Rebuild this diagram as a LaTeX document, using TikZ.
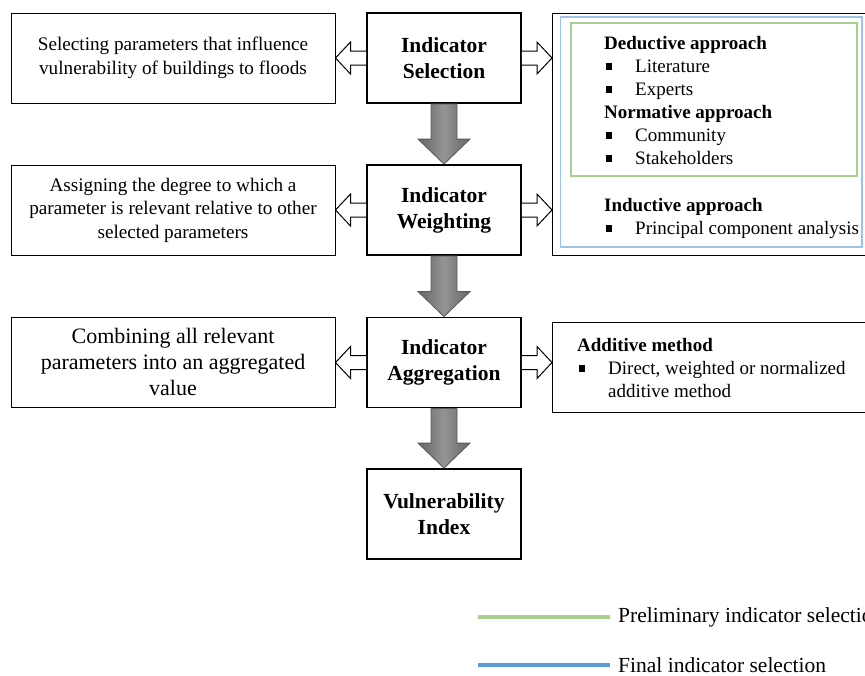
\documentclass[tikz,border=0pt]{standalone}
\usepackage{fontspec}
\setmainfont{Liberation Serif}
\usepackage{xcolor}
\usepackage{tikz}
\usetikzlibrary{calc}

\definecolor{prelimgreen}{HTML}{A9D18E}
\definecolor{finalblue}{HTML}{5B9BD5}
\definecolor{boxblue}{HTML}{9DC3E6}

\newcommand{\bul}{\makebox[31pt][l]{\hspace{1.5pt}\raisebox{2.5pt}{\rule{6.5pt}{6.5pt}}}}
\newcommand{\fatdown}[2]{%
  \draw[downarrow] ($(#1.south)+(-13,0)$) -- ($(#2.north)+(-13,-25)$)
    -- ($(#2.north)+(-26,-25)$) -- (#2.north) -- ($(#2.north)+(26,-25)$)
    -- ($(#2.north)+(13,-25)$) -- ($(#1.south)+(13,0)$) -- cycle;}
\newcommand{\sidearrow}[3]{%
  \draw[hollow] ($(#1)+(0,-7)$) -- ($(#2)+(#3,-7)$) -- ($(#2)+(#3,-16)$) -- (#2)
    -- ($(#2)+(#3,16)$) -- ($(#2)+(#3,7)$) -- ($(#1)+(0,7)$);}

\begin{document}
\begin{tikzpicture}[
  x = 1pt, y = -1pt,
  every node/.style = {inner sep = 0pt},
  stepbox/.style = {draw, line width = 1.8pt, fill = white, minimum width = 154pt,
    minimum height = 90pt, align = center, font = \fontsize{21.5}{26}\selectfont\bfseries},
  descbox/.style = {draw, line width = 1pt, minimum width = 324pt, minimum height = 90pt,
    align = center, font = \fontsize{19.2}{23.5}\selectfont},
  panelbox/.style = {draw, line width = 1pt, minimum width = 316pt, anchor = north west},
  listtext/.style = {align = left, anchor = north west, font = \fontsize{19}{23}\selectfont},
  downarrow/.style = {draw = black!65, line width = 0.8pt, left color = black!60,
    right color = black!60, middle color = black!42},
  hollow/.style = {draw, line width = 1pt, fill = white},
  prelim/.style = {prelimgreen, line width = 3.5pt},
  final/.style = {finalblue, line width = 3.5pt},
  legendtext/.style = {anchor = west, font = \fontsize{21.5}{26}\selectfont}
  ]
  \useasboundingbox (0,0) rectangle (865,675);
  \clip (0,0) rectangle (865,675);

  \node[descbox] (lsel) at (173,58) {Selecting parameters that influence\\vulnerability of buildings to floods};
  \node[stepbox] (sel) at (444,58) {Indicator\\Selection};
  \node[descbox] (lwei) at (173,210) {Assigning the degree to which a\\parameter is relevant relative to other\\selected parameters};
  \node[stepbox] (wei) at (444,210) {Indicator\\Weighting};
  \node[descbox, font = \fontsize{22}{26}\selectfont] (lagg) at (173,362) {Combining all relevant\\parameters into an aggregated\\value};
  \node[stepbox] (agg) at (444,362.5) {Indicator\\Aggregation};
  \node[stepbox] (vul) at (444,514) {Vulnerability\\Index};

  \node[panelbox, minimum height = 242pt] (panel) at (552,13) {};
  \draw[boxblue, line width = 1.5pt] (560.5,17) rectangle (862,247);
  \draw[prelimgreen, line width = 1.5pt] (571,23) rectangle (857,176);
  \node[listtext] (deduct) at (604,36) {\textbf{Deductive approach}\\\bul Literature\\\bul Experts\\
    \textbf{Normative approach}\\\bul Community\\\bul Stakeholders};
  \node[listtext] (induct) at (604,198) {\textbf{Inductive approach}\\\bul Principal component analysis};

  \node[panelbox, minimum height = 90pt] (apanel) at (552,322) {};
  \node[listtext] (addit) at (577,338) {\textbf{Additive method}\\\bul Direct, weighted or normalized\\
    \hspace*{31pt}additive method};

  \fatdown{sel}{wei}
  \fatdown{wei}{agg}
  \fatdown{agg}{vul}

  \coordinate (l1) at (sel.west -| lsel.east);
  \coordinate (l2) at (wei.west -| lwei.east);
  \coordinate (l3) at (agg.west -| lagg.east);
  \coordinate (r1) at (sel.east -| panel.west);
  \coordinate (r2) at (wei.east -| panel.west);
  \coordinate (r3) at (agg.east -| apanel.west);
  \sidearrow{sel.west}{l1}{15}
  \sidearrow{wei.west}{l2}{15}
  \sidearrow{agg.west}{l3}{15}
  \sidearrow{sel.east}{r1}{-15}
  \sidearrow{wei.east}{r2}{-15}
  \sidearrow{agg.east}{r3}{-15}

  \node[legendtext] (leg1) at (618,617) {Preliminary indicator selection};
  \node[legendtext] (leg2) at (618,665) {Final indicator selection};
  \coordinate (g1) at (478,617);
  \coordinate (g2) at (478,665);
  \draw[prelim] (g1) -- ([xshift = -8pt]leg1.west);
  \draw[final] (g2) -- ([xshift = -8pt]leg2.west);
\end{tikzpicture}
\end{document}
